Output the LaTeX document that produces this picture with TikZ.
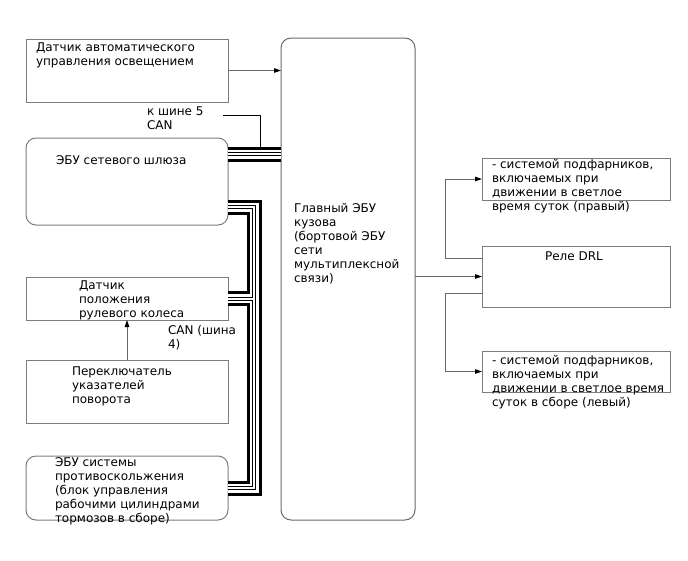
\documentclass[tikz,border=0pt]{standalone}
\usepackage{fontspec}
\setmainfont{DejaVu Sans}
\usetikzlibrary{arrows.meta,calc}
\definecolor{boxgray}{RGB}{125,125,125}
\definecolor{linegray}{RGB}{105,105,105}
\begin{document}
\begin{tikzpicture}[x=1pt,y=-1pt,
  box/.style={draw=boxgray, line width=1pt, inner sep=0pt, outer sep=0pt},
  rbox/.style={box, rounded corners=10pt},
  txt/.style={anchor=north west, inner sep=0pt, outer sep=0pt, align=left,
    font=\fontsize{12}{14}\selectfont, execute at begin node={\rule{0pt}{10pt}}},
  conn/.style={draw=linegray, line width=0.9pt},
  arr/.style={conn, -{Triangle[length=7pt,width=4.5pt,color=black]}},
  canbus/.style={draw=black, line width=15pt,
    postaction={draw=white, line width=9pt},
    postaction={draw=black, line width=4pt},
    postaction={draw=white, line width=2pt}}
]
\useasboundingbox (0,0) rectangle (688,560);
\fill[white] (0,0) rectangle (688,560);

% boxes
\node[box, minimum width=202pt, minimum height=63pt] (b1) at (127,70.5) {};
\node[rbox, minimum width=202pt, minimum height=87pt] (gw) at (127,181.5) {};
\node[box, minimum width=202pt, minimum height=43pt] (ss) at (127,298.5) {};
\node[box, minimum width=202pt, minimum height=63pt] (sw) at (127,391.5) {};
\node[rbox, minimum width=202pt, minimum height=64pt] (abs) at (127,488) {};
\node[rbox, draw=linegray, minimum width=134pt, minimum height=482pt] (main) at (348,279) {};
\node[box, minimum width=188pt, minimum height=42pt] (r1) at (576,179) {};
\node[box, minimum width=188pt, minimum height=61pt] (drl) at (576,276.5) {};
\node[box, minimum width=188pt, minimum height=41pt] (r3) at (576,371.5) {};

% texts
\node[txt] (b1t) at (36,43) {Датчик автоматического\\управления освещением};
\node[txt] (k5t) at (147,107) {к шине 5\\CAN};
\node[txt] (gwt) at (56,154) {ЭБУ сетевого шлюза};
\node[txt] (maint) at (294,203) {Главный ЭБУ\\кузова\\(бортовой ЭБУ\\сети\\мультиплексной\\связи)};
\node[txt] (sst) at (79,281) {Датчик\\положения\\рулевого колеса};
\node[txt] (can4) at (168,325) {CAN (шина\\4)};
\node[txt] (swt) at (72,367) {Переключатель\\указателей\\поворота};
\node[txt] (abst) at (55,458) {ЭБУ системы\\противоскольжения\\(блок управления\\рабочими цилиндрами\\тормозов в сборе)};
\node[txt] (r1t) at (492,159) {- системой подфарников,\\включаемых при\\движении в светлое\\время суток (правый)};
\node[anchor=base, inner sep=0pt, font=\fontsize{12}{14}\selectfont] (drlt) at (574,260) {Реле DRL};
\node[txt] (r3t) at (492,355) {- системой подфарников,\\включаемых при\\движении в светлое время\\суток в сборе (левый)};

% plain connectors
\draw[arr] (b1.east) -- (b1.east -| main.west);
\draw[arr] (sw.north) -- (ss.south);
\draw[arr] (drl.west -| main.east) -- (drl.west);
\coordinate (t1) at ($(drl.north west)!0.2!(drl.south west)$);
\coordinate (t2) at ($(drl.north west)!0.77!(drl.south west)$);
\draw[arr] (t1) -- ++(-37,0) |- (r1.west);
\draw[arr] (t2) -- ++(-37,0) |- (r3.west);

% CAN label lead
\coordinate (k5a) at (223,115);
\coordinate (k5b) at (260,150);
\draw[black, line width=0.9pt] (k5a) -| (k5b);

% CAN buses
\coordinate (g1) at ($(gw.north east)+(0,16)$);
\draw[canbus] (g1) -- (g1 -| main.west);
\coordinate (g2) at ($(gw.north east)+(0,69)$);
\draw[canbus] (g2) -- ++(26,0) |- (ss.east);
\draw[canbus] (ss.east) -- ++(26,0) |- (abs.east);
\begin{scope}
  \clip (0,0) rectangle (688,298.5);
  \draw[canbus] (g2) -- ++(26,0) |- (ss.east);
\end{scope}
\end{tikzpicture}
\end{document}
